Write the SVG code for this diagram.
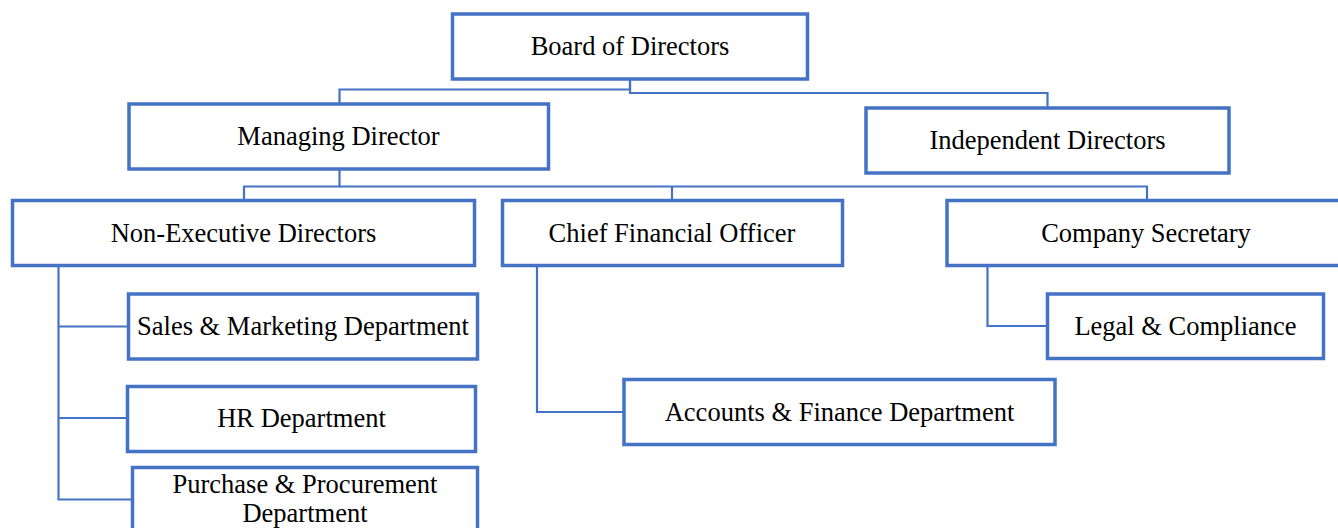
<svg xmlns="http://www.w3.org/2000/svg" width="1338" height="528" viewBox="0 0 1338 528">
<style>
.box{fill:#fff;stroke:#4472C4;stroke-width:3.5}
.con{fill:none;stroke:#4472C4;stroke-width:2.2}
text{font-family:"Liberation Serif","Times New Roman",serif;font-size:26.5px;fill:#000;text-anchor:middle}
</style>
<rect width="1338" height="528" fill="#fff"/>
<g id="connectors">
<path class="con" d="M630,79 V89.5 H339.5 V104"/>
<path class="con" d="M630,79 V93 H1047.5 V108"/>
<path class="con" d="M339.5,169 V186.5 H244 V200"/>
<path class="con" d="M339.5,186.5 H1147 V200"/>
<path class="con" d="M672,186.5 V200"/>
<path class="con" d="M58.5,265 V499.5 H132.5"/>
<path class="con" d="M58.5,326.5 H128.5"/>
<path class="con" d="M58.5,418 H127.5"/>
<path class="con" d="M537,265 V412 H624"/>
<path class="con" d="M987.5,265 V326 H1047.5"/>
</g>
<g id="board"><rect class="box" x="452.5" y="14" width="355" height="65"/><text x="630" y="55">Board of Directors</text></g>
<g id="md"><rect class="box" x="129" y="104" width="419.5" height="65"/><text x="338.5" y="145">Managing Director</text></g>
<g id="id"><rect class="box" x="866" y="108" width="363" height="65"/><text x="1047.5" y="149">Independent Directors</text></g>
<g id="ned"><rect class="box" x="12.5" y="200.5" width="462" height="65"/><text x="243.5" y="242">Non-Executive Directors</text></g>
<g id="cfo"><rect class="box" x="502.5" y="200.5" width="340" height="65"/><text x="672" y="242">Chief Financial Officer</text></g>
<g id="cs"><rect class="box" x="947" y="200.5" width="400" height="65"/><text x="1146" y="242">Company Secretary</text></g>
<g id="sales"><rect class="box" x="128.5" y="294" width="349" height="65"/><text x="303" y="335">Sales &amp; Marketing Department</text></g>
<g id="hr"><rect class="box" x="127.5" y="386.5" width="348" height="65"/><text x="301.5" y="427">HR Department</text></g>
<g id="purchase"><rect class="box" x="132.5" y="467.5" width="345" height="75"/><text x="305" y="493">Purchase &amp; Procurement</text><text x="305" y="521.5">Department</text></g>
<g id="legal"><rect class="box" x="1047.5" y="294" width="276" height="64.5"/><text x="1185.5" y="335">Legal &amp; Compliance</text></g>
<g id="accounts"><rect class="box" x="624" y="379.5" width="431" height="65"/><text x="839.5" y="421">Accounts &amp; Finance Department</text></g>
</svg>
